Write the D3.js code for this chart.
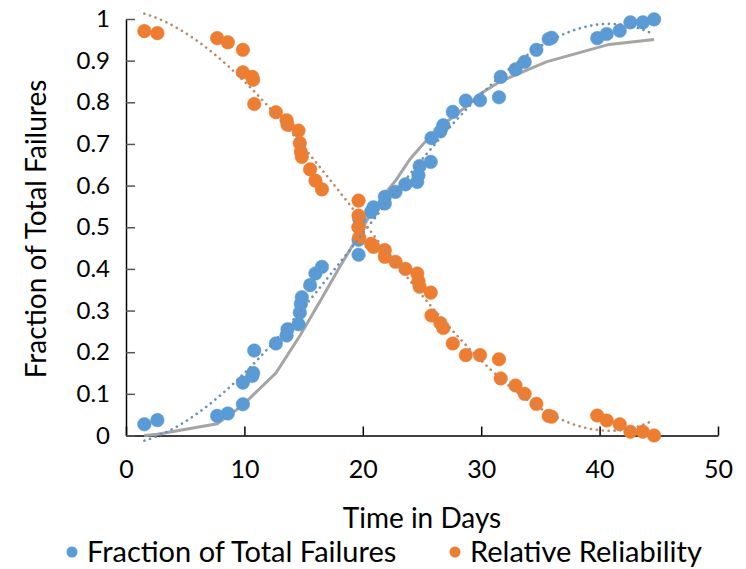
<!DOCTYPE html>
<html><head><meta charset="utf-8">
<script src="https://cdn.jsdelivr.net/npm/d3@7"></script>
<style>body{margin:0;background:#fff;} svg{display:block;}</style>
</head><body>
<svg id="c" width="746" height="569"></svg>
<script>
// ---- data ----
const days = [1.55,2.65,7.7,8.6,9.87,9.87,10.66,10.74,10.83,12.66,13.56,13.64,14.57,14.68,14.77,14.85,15.55,16.0,16.55,19.64,19.64,19.64,19.7,20.7,20.9,21.86,21.86,22.76,23.6,24.6,24.7,24.8,25.74,25.8,26.55,26.8,27.6,28.7,29.9,31.5,31.65,32.9,33.67,34.66,35.7,35.95,39.8,40.6,41.7,42.6,43.65,44.6];
const failures = [0.027,0.037,0.047,0.053,0.075,0.127,0.143,0.15,0.204,0.221,0.24,0.255,0.267,0.295,0.316,0.332,0.361,0.389,0.405,0.434,0.47,0.5,0.52,0.537,0.548,0.557,0.573,0.585,0.603,0.609,0.625,0.647,0.657,0.714,0.73,0.745,0.777,0.804,0.805,0.812,0.861,0.879,0.897,0.926,0.952,0.955,0.954,0.964,0.972,0.992,0.992,0.999];
const reliability = [0.971,0.966,0.954,0.944,0.926,0.872,0.861,0.854,0.796,0.776,0.757,0.746,0.732,0.702,0.681,0.669,0.639,0.612,0.591,0.564,0.528,0.5,0.476,0.46,0.453,0.445,0.429,0.417,0.4,0.389,0.371,0.357,0.343,0.288,0.27,0.258,0.221,0.193,0.193,0.183,0.137,0.12,0.1,0.076,0.047,0.045,0.048,0.036,0.027,0.009,0.009,0.0];
const modelDays = [1.55,2.65,7.7,9.87,10.83,12.66,14.7,16.55,18.06,19.64,20.7,21.86,22.8,24.0,25.1,26.7,28.75,29.9,31.6,35.5,40.8,44.6];
const modelValues = [0,0.003,0.028,0.073,0.1,0.15,0.24,0.33,0.405,0.48,0.535,0.58,0.613,0.664,0.70,0.745,0.79,0.82,0.85,0.897,0.939,0.951];
const xTicks = [0,10,20,30,40,50];
const yTicks = [0,0.1,0.2,0.3,0.4,0.5,0.6,0.7,0.8,0.9,1];
const seriesNames = ["Fraction of Total Failures","Relative Reliability"];
const colors = ["#5b9bd5","#ed7d31"];
const trendColors = ["#6a8fb8","#bf8966"];

const svg = d3.select("#c");
const x = d3.scaleLinear().domain([0,50]).range([126,718]);
const y = d3.scaleLinear().domain([0,1]).range([435.5,19]);
const font = "Lato, 'Open Sans', sans-serif";

// polynomial (order 3) least squares trendline, as the spreadsheet does
function polyFit(xs, ys, order){
  const n = order+1;
  const A = Array.from({length:n},()=>Array(n+1).fill(0));
  xs.forEach((xv,i)=>{
    for(let r=0;r<n;r++){
      for(let c=0;c<n;c++) A[r][c]+=Math.pow(xv,r+c);
      A[r][n]+=ys[i]*Math.pow(xv,r);
    }
  });
  for(let i=0;i<n;i++){
    let p=i; for(let k=i+1;k<n;k++) if(Math.abs(A[k][i])>Math.abs(A[p][i])) p=k;
    [A[i],A[p]]=[A[p],A[i]];
    for(let k=0;k<n;k++){ if(k===i) continue; const f=A[k][i]/A[i][i]; for(let c=i;c<=n;c++) A[k][c]-=f*A[i][c]; }
  }
  const coef = A.map((row,i)=>row[n]/row[i]);
  return t=>coef.reduce((s,c,i)=>s+c*Math.pow(t,i),0);
}

// axes
const gx = svg.append("g").attr("transform",`translate(0,${y(0)})`)
  .call(d3.axisBottom(x).tickValues(xTicks).tickSizeInner(-9).tickSizeOuter(0).tickPadding(25));
gx.select(".domain").attr("stroke","#000").attr("stroke-width",1.5);
gx.selectAll(".tick line").attr("stroke","#000").attr("stroke-width",1.5);
gx.selectAll("text").attr("font-family",font).attr("font-size",25).attr("fill","#000");

const gy = svg.append("g").attr("transform",`translate(${x(0)},0)`)
  .call(d3.axisLeft(y).tickValues(yTicks).tickSizeInner(-9).tickSizeOuter(0).tickPadding(16)
    .tickFormat(d=> d===0?"0": d===1?"1": d3.format(".1f")(d)));
gy.select(".domain").attr("stroke","#000").attr("stroke-width",1.5);
gy.selectAll(".tick line").attr("stroke","#555").attr("stroke-width",1.5);
gy.selectAll("text").attr("font-family",font).attr("font-size",24).attr("fill","#000");

// model line
svg.append("path")
  .datum(modelDays.map((d,i)=>[d,modelValues[i]]))
  .attr("fill","none").attr("stroke","#a5a5a5").attr("stroke-width",3)
  .attr("d", d3.line().x(d=>x(d[0])).y(d=>y(d[1])));

// points
[failures, reliability].forEach((vals,si)=>{
  svg.append("g").selectAll("circle").data(days.map((d,i)=>[d,vals[i]])).join("circle")
    .attr("cx",d=>x(d[0])).attr("cy",d=>y(d[1])).attr("r",6.8)
    .attr("fill",colors[si]).attr("stroke",colors[si]).attr("stroke-opacity",0.5).attr("stroke-width",1);
});

// trendlines
[failures, reliability].forEach((vals,si)=>{
  const f = polyFit(days, vals, 3);
  const t0 = d3.min(days), t1 = d3.max(days);
  const pts = d3.range(0,201).map(i=>{const t=t0+(t1-t0)*i/200; return [t,f(t)];});
  svg.append("path").datum(pts)
    .attr("fill","none").attr("stroke",trendColors[si]).attr("stroke-width",2.6)
    .attr("stroke-linecap","round").attr("stroke-dasharray","0.1,5.8")
    .attr("d", d3.line().x(d=>x(d[0])).y(d=>y(d[1])));
});

// titles
svg.append("text").attr("x",422).attr("y",528).attr("text-anchor","middle")
  .attr("font-family",font).attr("font-size",28).attr("fill","#000").text("Time in Days");
svg.append("text").attr("transform","translate(46,229) rotate(-90)").attr("text-anchor","middle")
  .attr("font-family",font).attr("font-size",28).attr("fill","#000").text("Fraction of Total Failures");

// legend
const legX = [72,455];
seriesNames.forEach((n,i)=>{
  svg.append("circle").attr("cx",legX[i]).attr("cy",552).attr("r",5.5).attr("fill",colors[i]);
  svg.append("text").attr("x",legX[i]+15).attr("y",562).attr("font-family",font).attr("font-size",29)
    .attr("fill","#000").text(n);
});
</script>
</body></html>
